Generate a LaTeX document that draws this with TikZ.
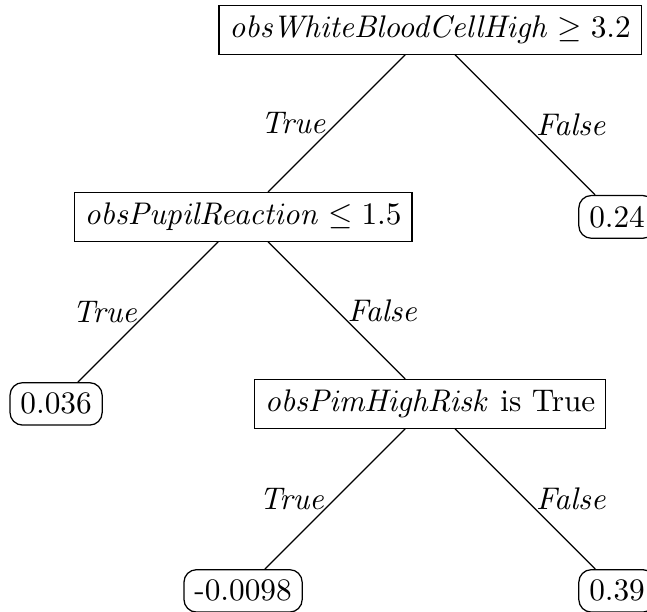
\documentclass[tikz,border=0pt]{standalone}
\begin{document}
\begin{tikzpicture}[x=2.1cm,y=2.1cm,
  split/.style={draw,rectangle},
  leaf/.style={draw,rectangle,rounded corners=4pt},
  yes/.style={left},
  no/.style={right}]
\useasboundingbox (-2.30,0.160) rectangle (1.160,-3.112);
% decision nodes
\node[split] (root) at (0,0) {$\mathit{obsWhiteBloodCellHigh} \geq 3.2$};
\node[split] (pupil) at (-1,-1) {$\mathit{obsPupilReaction} \leq 1.5$};
\node[split] (pim) at (0,-2) {$\mathit{obsPimHighRisk}$ is True};
% leaf values
\node[leaf] (l1) at (1,-1) {0.24};
\node[leaf] (l2) at (-2,-2) {0.036};
\node[leaf] (l3) at (-1,-3) {-0.0098};
\node[leaf] (l4) at (1,-3) {0.39};
% branches
\draw (root) -- node[yes] {\textit{True}} (pupil);
\draw (root) -- node[no] {\textit{False}} (l1);
\draw (pupil) -- node[yes] {\textit{True}} (l2);
\draw (pupil) -- node[no] {\textit{False}} (pim);
\draw (pim) -- node[yes] {\textit{True}} (l3);
\draw (pim) -- node[no] {\textit{False}} (l4);
\end{tikzpicture}
\end{document}
